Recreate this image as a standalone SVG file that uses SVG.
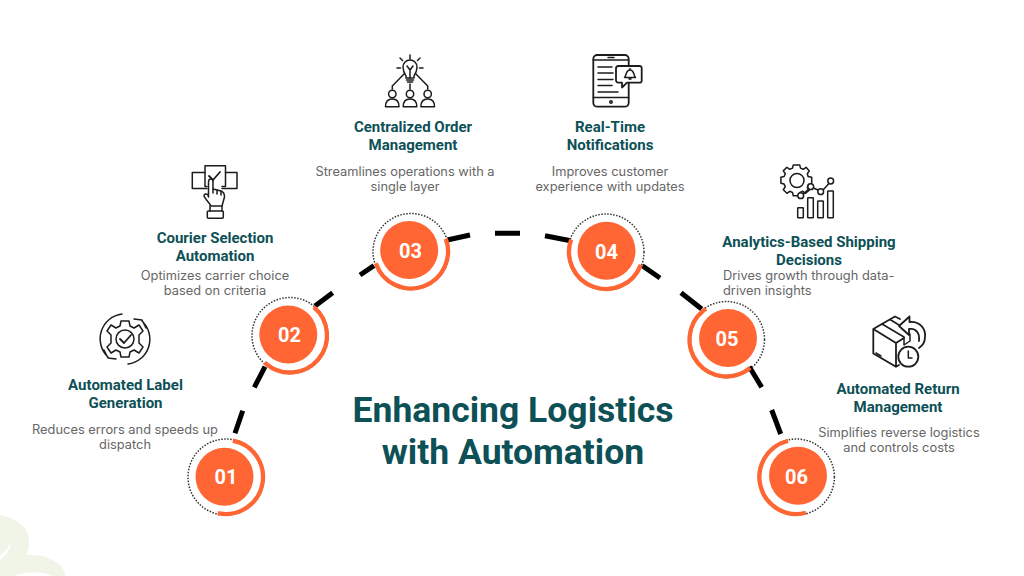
<svg xmlns="http://www.w3.org/2000/svg" width="1024" height="576" viewBox="0 0 1024 576">
<style>
text{text-anchor:middle}
.t{font:700 35.500px Roboto,"Liberation Sans",sans-serif;fill:#0d5056}
.h{font:700 15px Roboto,"Liberation Sans",sans-serif;fill:#0d5056}
.b{font:400 12.850px Inter,"Liberation Sans",sans-serif;fill:#666}
.n{font:700 20px Roboto,"Liberation Sans",sans-serif;fill:#fff}
.disc{fill:#ff6633}
.dot{fill:none;stroke:#333;stroke-width:1.500;stroke-dasharray:1.500 1.500}
.arc{fill:none;stroke:#ff6633;stroke-width:4.300}
.dash{stroke:#000;stroke-width:5;fill:none}
.i{fill:none;stroke:#1c1c1c;stroke-width:1.500;stroke-linejoin:round;stroke-linecap:round}
.i2{fill:none;stroke:#1c1c1c;stroke-width:1.800;stroke-linejoin:round;stroke-linecap:round}
.w{fill:#fff}
</style>
<rect width="1024" height="576" fill="#fff"/>
<g id="background-shape">
<path fill="#f1f5e8" d="M0 515C16 518 29 527 29 541C29 547 28 551 26 555C36 554 46 556 54 561C61 565 65 570 65 576H0Z"/>
<path fill="#fff" d="M0 556C5 552 9 547 11 541C11 549 6 556 0 560ZM14 576C24 572 36 571 48 574L52 576Z"/>
</g>
<g id="connectors">
<path class="dash" d="M235 433.300L242.700 410.700M254.300 387.300L265 366.700M315 306L332.700 292.700M360 275L374 265.700M447.300 240L470 235M495 233.300H520M545 235.700L570.700 240.700M642.300 265.700L660 278M681 292.700L701.700 309M749.300 366.700L761.700 387.300M771.700 410L780.700 434"/>
</g>
<g id="title"><text class="t" x="513" y="422">Enhancing Logistics</text><text class="t" x="513" y="464">with Automation</text></g>
<g id="node-01">
<circle class="dot" cx="226" cy="477" r="38"/>
<circle class="arc" cx="226" cy="477" r="37" pathLength="360" stroke-dasharray="182.400 360" transform="rotate(-79.400 226 477)"/>
<circle class="disc" cx="224.500" cy="476.700" r="29"/><text class="n" x="226" y="484">01</text>
<g class="i2" transform="translate(125 339)">
<path class="i" d="M-3 -25A25 25 0 0 0 -17 18M-21 11L-17 19L-9 20M3 25A25 25 0 0 0 17 -18M21 -11L17 -19L9 -20"/>
<path class="i" d="M-4 -18L4 -18L5 -13L9 -11L14 -14L18 -8L14 -4L14 4L18 8L14 14L9 11L5 13L4 18L-4 18L-5 13L-9 11L-14 14L-18 8L-14 4L-14 -4L-18 -8L-14 -14L-9 -11L-5 -13Z"/>
<circle class="i" r="9"/><path d="M-5 0L-1 4L6 -4"/>
</g>
</g>
<g id="node-02">
<circle class="dot" cx="290" cy="335.500" r="38"/>
<circle class="arc" cx="290" cy="335.500" r="37" pathLength="360" stroke-dasharray="183 360" transform="rotate(-49.900 290 335.500)"/>
<circle class="disc" cx="288.300" cy="334.500" r="29"/><text class="n" x="289.500" y="342">02</text>
<g class="i">
<path d="M205 172.500H192.300V188.500H207M225.500 172.500H237V188.500H222"/>
<path d="M207 186.500H205V165.700H225.500V186.500H222"/>
<path class="i2" d="M209 176L213 180L220 172"/>
<path class="w" d="M211 206C208 201 205 199 204 196C204 194 206 193 208 195L208.500 197V182C208.500 178 213 178 213 182V189L221 191C224 192 224.500 194 224.500 197L222 206Z"/>
<path d="M213 193V189M217 194V190M221 195V191"/>
<rect x="207.300" y="211" width="16" height="7.300" rx="1"/>
<path d="M210 206V211M222 206V211"/>
</g>
</g>
<g id="node-03">
<circle class="dot" cx="411" cy="251.500" r="38"/>
<circle class="arc" cx="411" cy="251.500" r="37" pathLength="360" stroke-dasharray="181.600 360" transform="rotate(-20 411 251.500)"/>
<circle class="disc" cx="409.200" cy="250" r="29"/><text class="n" x="410.500" y="257.500">03</text>
<g class="i">
<path d="M406 76C404 73 403 71 403 67A7 7 0 0 1 417 67C417 71 416 73 414 76V78H406Z"/>
<path d="M407 66L410 70L413 66M410 70V78M406.500 80H413.500M407.500 82H412.500M410 84V89"/>
<path d="M410 55V59M400 58L402.500 60.500M420 58L417.500 60.500M397 68H400.500M423 68H419.500"/>
<path d="M404 74L392.300 86V89M416 74L427.700 86V89"/>
<circle cx="392.300" cy="94" r="3.700"/><circle cx="410" cy="94" r="3.700"/><circle cx="427.700" cy="94" r="3.700"/>
<path d="M385.500 106.700C385.500 101 388 99 392.300 99C396.600 99 399 101 399 106.700ZM403.200 106.700C403.200 101 405.700 99 410 99C414.300 99 416.800 101 416.800 106.700ZM420.900 106.700C420.900 101 423.400 99 427.700 99C432 99 434.500 101 434.500 106.700Z"/>
</g>
</g>
<g id="node-04">
<circle class="dot" cx="606" cy="252" r="38"/>
<circle class="arc" cx="606" cy="252" r="37" pathLength="360" stroke-dasharray="179.600 360" transform="rotate(20 606 252)"/>
<circle class="disc" cx="606.500" cy="250.800" r="29"/><text class="n" x="606.500" y="258.500">04</text>
<g class="i">
<path class="i2" d="M628.700 66V59A4 4 0 0 0 624.700 55H597.300A4 4 0 0 0 593.300 59V102.700A4 4 0 0 0 597.300 106.700H624.700A4 4 0 0 0 628.700 102.700V83"/>
<path d="M593.300 60H628.700M593.300 97.500H628.700M608 57.500H614"/>
<circle cx="611" cy="102" r="1.200"/>
<path d="M598 67H612M598 73H613M598 79.500H613M598 85.500H612M598 92H618"/>
<path class="i2 w" d="M618.500 66H639.500A2 2 0 0 1 641.700 68V80.500A2 2 0 0 1 639.500 82.700H627L622 87.500V82.700H618.500A2.500 2.500 0 0 1 616 80.500V68A2.500 2.500 0 0 1 618.500 66Z"/>
<path d="M624.500 77.500C626.500 76 625.500 70 630 70C634.500 70 633.500 76 635.500 77.500ZM630 68.500V70M629 79H631"/>
</g>
</g>
<g id="node-05">
<circle class="dot" cx="726.500" cy="339.500" r="38"/>
<circle class="arc" cx="726.500" cy="339.500" r="37" pathLength="360" stroke-dasharray="186 360" transform="rotate(50.300 726.500 339.500)"/>
<circle class="disc" cx="728" cy="338" r="29"/><text class="n" x="727" y="346">05</text>
<g class="i">
<path style="stroke-width:1.900" d="M792 166.500L800 166.500L801 170.500L804.500 172L808 169.500L812 174L809.500 177.500L810.500 181L815 182L815 190L811 191L809.500 194.500L812 198L807 202L804 199.500L800.500 201L800 205L792 205L791 201L787.500 199.500L784 202L779.500 197.500L782 194L780.500 190.500L776.500 189.500L776.500 182L780.500 181L782 177.500L779.500 174L784 169.500L787.500 172L791 170.500Z" transform="translate(796.500 180.500) scale(.8) translate(-796 -186)"/>
<circle cx="797" cy="180.500" r="7"/>
<rect x="797.700" y="207.700" width="5.600" height="10" rx=".5"/><rect x="807.700" y="197.700" width="5.600" height="20" rx=".5"/><rect x="817.700" y="201" width="5.600" height="16.700" rx=".5"/><rect x="827.700" y="191" width="5.600" height="26.700" rx=".5"/>
<path d="M803.500 194L808.500 189M813.500 188L818 190M823.500 189.500L828.500 184"/>
<circle class="w" cx="800.700" cy="195.700" r="2.900"/><circle class="w" cx="810.700" cy="186.700" r="2.900"/><circle class="w" cx="820.700" cy="191.700" r="2.900"/><circle class="w" cx="830.700" cy="181" r="2.900"/>
</g>
</g>
<g id="node-06">
<circle class="dot" cx="796.400" cy="477" r="38"/>
<circle class="arc" cx="796.400" cy="477" r="37" pathLength="360" stroke-dasharray="182 360" transform="rotate(75 796.400 477)"/>
<circle class="disc" cx="798" cy="475.700" r="29"/><text class="n" x="796.500" y="483.500">06</text>
<g class="i">
<path class="i2" d="M873.300 329L895 316.500L900 319M873.300 329V353.500L896 366.700V343ZM896 343L904 338M896 366.700L899 365"/>
<path d="M882 324L904 337V345L910 341V334M890 319.500L899 325"/>
<path d="M876 353L881 356"/>
<path class="i2" d="M909.500 316.500L899 326L909 335V329C916 328 920 333 919 341M909.500 316.500V322C920 321 926 329 925 337C925 342 922 346 919 348"/>
<circle class="i2 w" cx="908.300" cy="356.700" r="10"/><path d="M908.300 351V358H912"/>
</g>
</g>
<g id="label-01"><text class="h" x="125.500" y="390">Automated Label</text><text class="h" x="125.500" y="408">Generation</text><text class="b" x="125" y="434">Reduces errors and speeds up</text><text class="b" x="125" y="449">dispatch</text></g>
<g id="label-02"><text class="h" x="215" y="243">Courier Selection</text><text class="h" x="215" y="261">Automation</text><text class="b" x="215" y="280">Optimizes carrier choice</text><text class="b" x="215" y="295">based on criteria</text></g>
<g id="label-03"><text class="h" x="413" y="132">Centralized Order</text><text class="h" x="413" y="150">Management</text><text class="b" x="405" y="176">Streamlines operations with a</text><text class="b" x="405" y="191">single layer</text></g>
<g id="label-04"><text class="h" x="610" y="132">Real-Time</text><text class="h" x="610" y="150">Notifications</text><text class="b" x="610" y="176">Improves customer</text><text class="b" x="610" y="191">experience with updates</text></g>
<g id="label-05"><text class="h" x="809" y="247">Analytics-Based Shipping</text><text class="h" x="809" y="265">Decisions</text><text class="b" x="723" y="280" style="text-anchor:start">Drives growth through data-</text><text class="b" x="723" y="295" style="text-anchor:start">driven insights</text></g>
<g id="label-06"><text class="h" x="898" y="394">Automated Return</text><text class="h" x="898" y="412">Management</text><text class="b" x="899" y="437">Simplifies reverse logistics</text><text class="b" x="899" y="452">and controls costs</text></g>
</svg>
